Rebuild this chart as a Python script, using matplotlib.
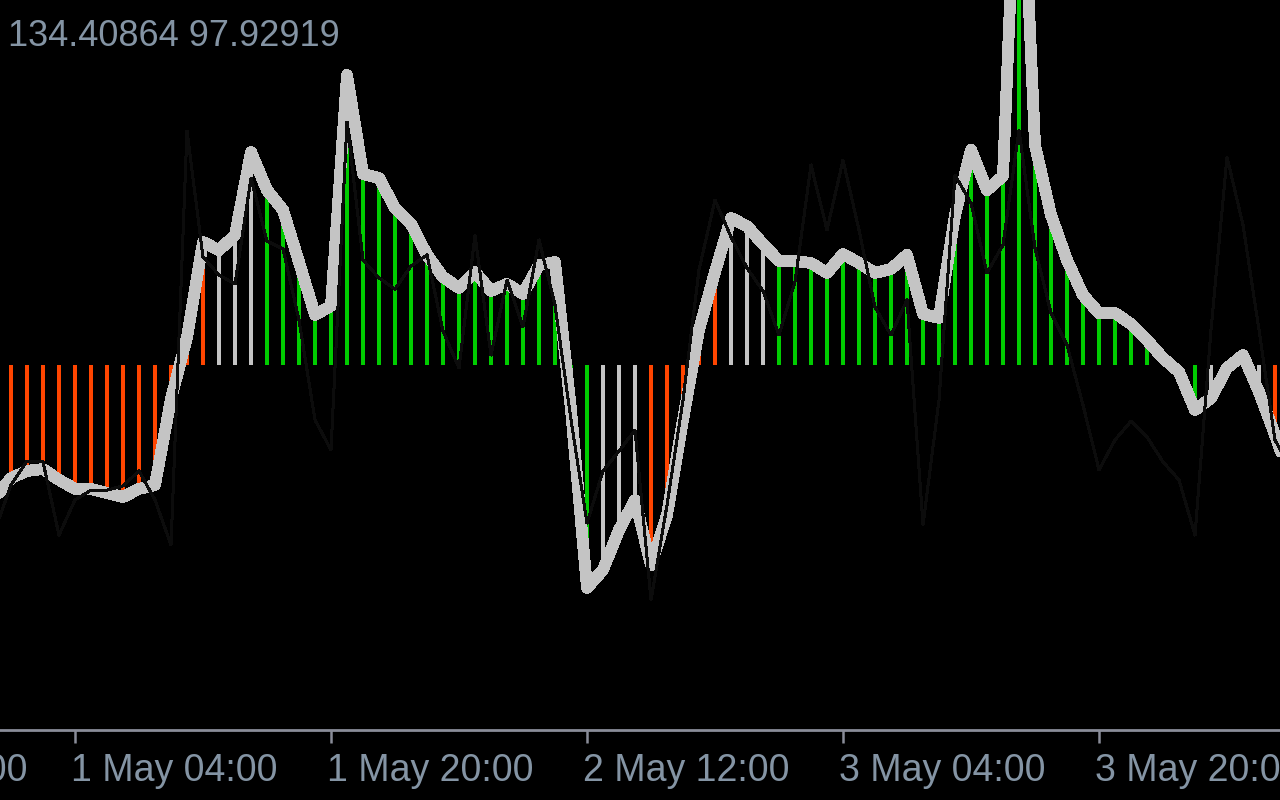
import matplotlib
matplotlib.use("Agg")
import matplotlib.pyplot as plt
import matplotlib.transforms as mtransforms
import numpy as np

# hourly bars, counted from 1 May 00:00 (one extra bar beyond each edge)
hours = np.arange(-1, 81)

# smoothed oscillator (thick silver line, also the histogram height)
signal = [
    -44.3, -37.7, -35.3, -34.7, -38.3, -41.3, -41.3, -42.7, -44.0, -41.3,
    -40.0, -11.3, 9.3, 41.0, 38.3, 43.3, 71.0, 58.3, 51.7, 34.3,
    16.7, 19.7, 96.7, 63.7, 62.3, 52.3, 47.0, 36.7, 29.3, 25.7,
    31.0, 24.7, 27.0, 23.7, 33.3, 34.3, -15.0, -74.3, -68.3, -55.0,
    -45.0, -66.7, -50.0, -18.3, 11.7, 31.0, 49.0, 46.3, 40.3, 34.7,
    34.7, 34.0, 30.7, 37.0, 34.0, 30.7, 32.0, 36.7, 17.0, 15.7,
    50.0, 71.7, 58.3, 63.0, 195.0, 73.3, 50.0, 35.0, 23.3, 17.3,
    17.3, 13.7, 8.3, 2.3, -2.3, -15.0, -11.0, -1.0, 3.3, -9.0,
    -23.3, -38.3,
]

# raw oscillator (thin, almost black line)
raw = [
    -55.0, -40.0, -32.0, -32.3, -56.7, -45.0, -41.7, -41.7, -40.3, -35.3,
    -45.0, -60.0, 78.0, 36.0, 30.0, 27.0, 62.3, 41.3, 38.7, 15.0,
    -18.3, -28.3, 81.0, 35.0, 29.0, 25.3, 33.0, 36.7, 11.3, -1.0,
    43.3, 3.3, 28.3, 12.7, 41.7, 20.0, -18.3, -52.7, -35.3, -28.7,
    -21.7, -78.3, -46.7, -11.7, 31.7, 55.0, 42.7, 32.3, 24.7, 10.0,
    27.7, 66.7, 45.0, 68.3, 45.0, 19.3, 10.0, 21.7, -53.3, -11.7,
    63.3, 54.0, 30.7, 40.0, 78.3, 39.0, 17.3, 6.7, -13.3, -35.0,
    -25.0, -18.7, -24.0, -32.3, -38.3, -56.7, 11.7, 69.3, 46.7, 11.7,
    -25.0, -35.0,
]

# histogram state per bar: r = down, w = neutral, g = up
states = (
    "rrrrrrrrrrrrrr"
    "www"
    "ggggggggggggggggggggg"
    "www"
    "rrrrr"
    "www"
    "ggggggggggggggggggggggggggg"
    "wwww"
    "rr"
)

tick_hours = [-12, 4, 20, 36, 52, 68]
tick_labels = ["30 Apr 12:00", "1 May 04:00", "1 May 20:00",
               "2 May 12:00", "3 May 04:00", "3 May 20:00"]

header = "134.40864 97.92919"

state_colors = {"r": "#ff4500", "w": "#c4c4c4", "g": "#00cc00"}
text_color = "#8494a4"
axis_color = "#8a8d99"

figure = plt.figure(figsize=(12.8, 8), dpi=100, facecolor="black")
axes = figure.add_axes([0, 1 - 730 / 800, 1, 730 / 800])
axes.set_facecolor("black")

bar_colors = [state_colors[s] for s in states]
axes.bar(hours, signal, width=0.25, color=bar_colors, linewidth=0,
         antialiased=False, zorder=1)
axes.plot(hours, signal, color="#c4c4c4", lw=7.8, antialiased=False,
          solid_joinstyle="round", solid_capstyle="round", zorder=2)
axes.plot(hours, raw, color="#0c0c0c", lw=1.44, antialiased=False, zorder=3)

axes.set_xlim(-0.6875, 79.3125)
axes.set_ylim(-121.67, 121.67)

for side in ("top", "left", "right"):
    axes.spines[side].set_visible(False)
axes.spines["bottom"].set_color(axis_color)
axes.spines["bottom"].set_linewidth(2)
axes.set_yticks([])
axes.set_xticks([h for h in tick_hours if h >= 0])
axes.set_xticklabels([])
axes.tick_params(axis="x", direction="out", length=9, width=1.8,
                 color=axis_color)

# time labels start just left of their tick; the first one runs off the edge
label_transform = mtransforms.blended_transform_factory(
    axes.transData, figure.transFigure)
for h, label in zip(tick_hours, tick_labels):
    axes.text(h - 0.25, 1 - 781 / 800, label, transform=label_transform,
              ha="left", va="baseline", fontsize=27, color=text_color,
              family="Liberation Sans", clip_on=False)

figure.text(8 / 1280, 1 - 46 / 800, header, ha="left", va="baseline",
            fontsize=26, color=text_color, family="Liberation Sans")

figure.savefig("out.png", dpi=100, facecolor="black")
plt.close(figure)
